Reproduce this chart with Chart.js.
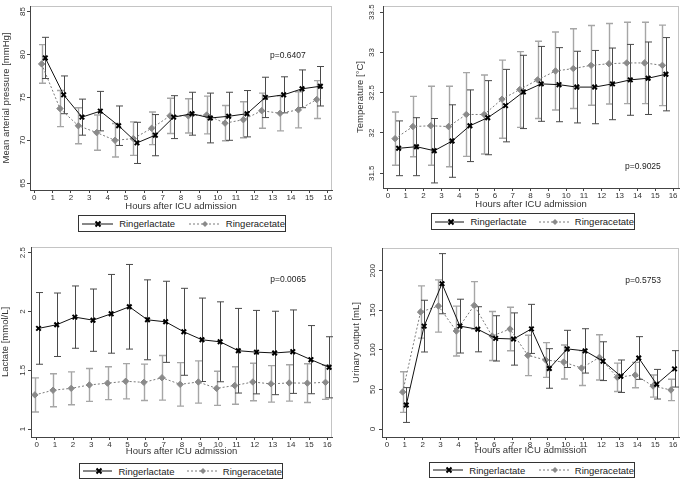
<!DOCTYPE html>
<html>
<head>
<meta charset="utf-8">
<script src="https://cdn.jsdelivr.net/npm/chart.js@4/dist/chart.umd.min.js"></script>
<style>
  body { margin: 0; background: #fff; font-family: "Liberation Sans", Arial, sans-serif; }
  #wrap { position: relative; width: 685px; height: 479px; overflow: hidden; }
  canvas { position: absolute; }
  .legend { position: absolute; box-sizing: border-box; border: 1px solid #333; display: flex; align-items: center;
            font-size: 9.5px; color: #222; padding-left: 3px; white-space: nowrap; }
  .legend svg { display: block; margin-right: 6px; }
  .legend .gap { width: 14px; }
</style>
</head>
<body>
<div id="wrap">
  <canvas id="map" width="340" height="213" style="left:0;top:0"></canvas>
  <canvas id="temp" width="345" height="213" style="left:340px;top:0"></canvas>
  <canvas id="lac" width="340" height="222" style="left:0;top:240px"></canvas>
  <canvas id="urine" width="345" height="222" style="left:340px;top:240px"></canvas>
</div>
<script>
// hours after ICU admission
const hours16 = [0, 1, 2, 3, 4, 5, 6, 7, 8, 9, 10, 11, 12, 13, 14, 15];
const hours17 = [0, 1, 2, 3, 4, 5, 6, 7, 8, 9, 10, 11, 12, 13, 14, 15, 16];
const hoursUrine = [1, 2, 3, 4, 5, 6, 7, 8, 9, 10, 11, 12, 13, 14, 15, 16];
const hourTicks = [0, 1, 2, 3, 4, 5, 6, 7, 8, 9, 10, 11, 12, 13, 14, 15, 16];

// mean arterial pressure [mmHg]
const mapLactate = [79.6, 75.3, 72.7, 73.4, 71.7, 69.7, 70.6, 72.7, 73.1, 72.6, 72.8, 73.1, 75.0, 75.3, 76.0, 76.3];
const mapLactateErr = [2.4, 2.2, 2.1, 2.3, 2.3, 2.4, 2.4, 2.5, 2.5, 2.9, 2.8, 2.7, 2.35, 2.1, 2.2, 2.3];
const mapAcetate = [78.9, 73.7, 71.7, 70.9, 70.0, 70.2, 71.4, 72.85, 72.85, 72.95, 72.0, 72.4, 73.45, 73.15, 73.55, 74.75];
const mapAcetateErr = [2.25, 2.1, 2.1, 2.05, 1.95, 1.95, 1.9, 2.05, 2.0, 2.2, 2.05, 2.1, 2.05, 2.05, 2.1, 2.2];
const mapTicks = [65, 70, 75, 80, 85];

// temperature [°C]
const tempLactate = [31.81, 31.83, 31.78, 31.90, 32.09, 32.19, 32.34, 32.51, 32.61, 32.60, 32.57, 32.57, 32.61, 32.66, 32.68, 32.73];
const tempLactateErr = [0.34, 0.36, 0.40, 0.45, 0.445, 0.46, 0.45, 0.455, 0.465, 0.46, 0.445, 0.455, 0.445, 0.44, 0.45, 0.455];
const tempAcetate = [31.93, 32.08, 32.09, 32.08, 32.23, 32.23, 32.42, 32.54, 32.66, 32.77, 32.80, 32.84, 32.86, 32.87, 32.87, 32.84];
const tempAcetateErr = [0.33, 0.375, 0.49, 0.5, 0.52, 0.49, 0.485, 0.47, 0.48, 0.485, 0.495, 0.495, 0.5, 0.505, 0.505, 0.5];
const tempTicks = [31.5, 32, 32.5, 33, 33.5];

// lactate [mmol/L]
const lacLactate = [1.856, 1.887, 1.952, 1.926, 1.98, 2.04, 1.929, 1.912, 1.827, 1.759, 1.742, 1.666, 1.654, 1.647, 1.658, 1.59, 1.525];
const lacLactateErr = [0.305, 0.27, 0.265, 0.265, 0.335, 0.36, 0.34, 0.345, 0.37, 0.355, 0.34, 0.36, 0.355, 0.355, 0.355, 0.29, 0.26];
const lacAcetate = [1.29, 1.33, 1.346, 1.375, 1.39, 1.406, 1.397, 1.436, 1.38, 1.40, 1.346, 1.37, 1.40, 1.384, 1.392, 1.39, 1.397];
const lacAcetateErr = [0.145, 0.14, 0.14, 0.14, 0.14, 0.15, 0.155, 0.19, 0.185, 0.18, 0.145, 0.16, 0.16, 0.155, 0.155, 0.165, 0.145];
const lacTicks = [1, 1.5, 2, 2.5];

// urinary output [mL]
const urineLactate = [30.3, 130, 183.6, 130, 126, 114.5, 113.7, 126.5, 76.5, 101.2, 98.7, 85.7, 66.7, 89.7, 56.6, 76];
const urineLactateErr = [22, 32.7, 38, 34, 28.5, 28.6, 33, 31, 25, 23.5, 28, 24.5, 20.5, 27, 18.7, 23];
const urineAcetate = [46.7, 147.8, 155.4, 123.8, 156.2, 117.5, 126.3, 93, 87.2, 84.6, 77, 90.5, 65.3, 68.2, 54.3, 49.3];
const urineAcetateErr = [25.7, 33, 33, 31.5, 30, 31, 27.5, 25.5, 22, 21.5, 22, 28.5, 18, 16, 14, 13.5];
const urineTicks = [0, 50, 100, 150, 200];

const FONT = '"Liberation Sans", Arial, sans-serif';
Chart.defaults.font.family = FONT;

// vertical error bars with caps, drawn from the scales
const errorBars = {
  id: 'errorBars',
  beforeDatasetsDraw(chart) {
    const { ctx, scales: { x, y } } = chart;
    for (let d = chart.data.datasets.length - 1; d >= 0; d--) {
      const ds = chart.data.datasets[d];
      ctx.save();
      ctx.strokeStyle = ds.barColor;
      ctx.lineWidth = ds.barWidth;
      ds.data.forEach((p, i) => {
        const e = ds.errors[i];
        const px = Math.round(x.getPixelForValue(p.x)) + 0.5;
        const top = y.getPixelForValue(p.y + e);
        const bot = y.getPixelForValue(p.y - e);
        ctx.beginPath();
        ctx.moveTo(px, top); ctx.lineTo(px, bot);
        ctx.moveTo(px - 3.5, top); ctx.lineTo(px + 3.5, top);
        ctx.moveTo(px - 3.5, bot); ctx.lineTo(px + 3.5, bot);
        ctx.stroke();
      });
      ctx.restore();
    }
  }
};

// light plot region frame + p value
const frame = {
  id: 'frame',
  beforeDraw(chart) {
    const { ctx, chartArea: a } = chart;
    ctx.save();
    ctx.strokeStyle = '#c4c4c4';
    ctx.lineWidth = 1;
    ctx.strokeRect(a.left + 0.5, a.top + 0.5, a.right - a.left - 1, a.bottom - a.top);
    ctx.restore();
  },
  afterDraw(chart, args, opts) {
    const { ctx, scales: { x, y } } = chart;
    ctx.save();
    ctx.fillStyle = '#222';
    ctx.font = '8.5px ' + FONT;
    ctx.textAlign = 'center';
    ctx.textBaseline = 'middle';
    ctx.fillText(opts.text, x.getPixelForValue(opts.x), y.getPixelForValue(opts.y));
    ctx.restore();
  }
};

function panel(id, c) {
  const canvas = document.getElementById(id);
  const W = canvas.width, H = canvas.height;
  return new Chart(canvas, {
    type: 'line',
    data: {
      datasets: [{
        label: 'Ringerlactate',
        data: c.hours.map((h, i) => ({ x: h + c.dx[0], y: c.lactate[i] })),
        errors: c.lactateErr,
        barColor: '#4a4a4a', barWidth: 1,
        borderColor: '#111', borderWidth: 1,
        pointStyle: 'crossRot', pointRadius: 3.2, pointBorderWidth: 2,
        pointBorderColor: '#000', pointBackgroundColor: '#000'
      }, {
        label: 'Ringeracetate',
        data: c.hours.map((h, i) => ({ x: h + c.dx[1], y: c.acetate[i] })),
        errors: c.acetateErr,
        barColor: '#a6a6a6', barWidth: 1.4,
        borderColor: '#7a7a7a', borderWidth: 1, borderDash: [2, 2],
        pointStyle: 'rectRot', pointRadius: 3.2, pointBorderWidth: 1,
        pointBorderColor: '#8a8a8a', pointBackgroundColor: '#8a8a8a'
      }]
    },
    options: {
      responsive: false,
      animation: false,
      layout: { padding: { left: 0, top: c.frame.top, right: W - c.frame.right, bottom: H - c.frame.bottom - c.xh } },
      plugins: {
        legend: { display: false },
        tooltip: { enabled: false },
        frame: c.p
      },
      scales: {
        x: {
          type: 'linear', min: c.xRange[0], max: c.xRange[1],
          afterBuildTicks: s => { s.ticks = hourTicks.map(v => ({ value: v })); },
          afterFit: s => { s.height = c.xh; s.paddingLeft = 0; s.paddingRight = 0; },
          grid: { drawOnChartArea: false, drawTicks: true, tickLength: 3, tickColor: '#444' },
          border: { color: '#444', width: 1 },
          ticks: { autoSkip: false, maxRotation: 0, padding: 0, color: '#333', font: { size: 8 }, callback: v => String(v) },
          title: { display: true, text: 'Hours after ICU admission', color: '#333', font: { size: 9.5 }, padding: 0 }
        },
        y: {
          type: 'linear', min: c.yRange[0], max: c.yRange[1],
          afterBuildTicks: s => { s.ticks = c.yTicks.map(v => ({ value: v })); },
          afterFit: s => { s.width = c.frame.left; s.paddingTop = 0; s.paddingBottom = 0; },
          grid: { drawOnChartArea: false, drawTicks: true, tickLength: 3, tickColor: '#444' },
          border: { color: '#444', width: 1 },
          ticks: { autoSkip: false, minRotation: 90, maxRotation: 90, crossAlign: 'center', padding: 0,
                   color: '#333', font: { size: 8 }, callback: v => String(v) },
          title: { display: true, text: c.yTitle, color: '#333', font: { size: 9.5 }, padding: { top: c.yTitlePad, bottom: 0 } }
        }
      }
    },
    plugins: [errorBars, frame]
  });
}

panel('map', {
  hours: hours16, dx: [0.6, 0.4],
  lactate: mapLactate, lactateErr: mapLactateErr, acetate: mapAcetate, acetateErr: mapAcetateErr,
  yTicks: mapTicks, yRange: [64.21, 85.65], xRange: [-0.234, 16.234],
  frame: { left: 30, top: 1, right: 332, bottom: 190 }, xh: 21.7,
  yTitle: 'Mean arterial pressure [mmHg]', yTitlePad: 0.3,
  p: { text: 'p=0.6407', x: 13.83, y: 79.86 }
});

panel('temp', {
  hours: hours16, dx: [0.6, 0.4],
  lactate: tempLactate, lactateErr: tempLactateErr, acetate: tempAcetate, acetateErr: tempAcetateErr,
  yTicks: tempTicks, yRange: [31.317, 33.577], xRange: [-0.277, 16.332],
  frame: { left: 43, top: 3, right: 343, bottom: 188 }, xh: 21.7,
  yTitle: 'Temperature [°C]', yTitlePad: 15,
  p: { text: 'p=0.9025', x: 14.31, y: 31.577 }
});

panel('lac', {
  hours: hours17, dx: [0.1, -0.1],
  lactate: lacLactate, lactateErr: lacLactateErr, acetate: lacAcetate, acetateErr: lacAcetateErr,
  yTicks: lacTicks, yRange: [0.932, 2.5485], xRange: [-0.314, 16.259],
  frame: { left: 31, top: 7, right: 332, bottom: 197 }, xh: 19.7,
  yTitle: 'Lactate [mmol/L]', yTitlePad: 0,
  p: { text: 'p=0.0065', x: 13.84, y: 2.274 }
});

panel('urine', {
  hours: hoursUrine, dx: [0.08, -0.12],
  lactate: urineLactate, lactateErr: urineLactateErr, acetate: urineAcetate, acetateErr: urineAcetateErr,
  yTicks: urineTicks, yRange: [-10.1, 228.7], xRange: [-0.276, 16.331],
  frame: { left: 42, top: 8, right: 343, bottom: 197 }, xh: 19.4,
  yTitle: 'Urinary output [mL]', yTitlePad: 10.3,
  p: { text: 'p=0.5753', x: 14.32, y: 187.4 }
});

// legends: line sample with marker + label, in a box under each panel
const sampleLactate = '<svg width="32" height="10"><line x1="0" y1="5" x2="32" y2="5" stroke="#111" stroke-width="1"/>' +
  '<path d="M13.5 2.5 L18.5 7.5 M18.5 2.5 L13.5 7.5" stroke="#000" stroke-width="2"/></svg>';
const sampleAcetate = '<svg width="32" height="10"><line x1="0" y1="5" x2="32" y2="5" stroke="#7a7a7a" stroke-width="1" stroke-dasharray="2,2"/>' +
  '<path d="M16 2 L19 5 L16 8 L13 5 Z" fill="#8a8a8a"/></svg>';
const legendBoxes = [[78, 215, 208, 17], [431, 213, 204, 17], [79, 463, 204, 16], [429, 462, 206, 16]];
legendBoxes.forEach(([l, t, w, h]) => {
  const div = document.createElement('div');
  div.className = 'legend';
  div.style.cssText = `left:${l}px;top:${t}px;width:${w}px;height:${h}px`;
  div.innerHTML = sampleLactate + '<span>Ringerlactate</span><span class="gap"></span>' +
    sampleAcetate + '<span>Ringeracetate</span>';
  document.getElementById('wrap').appendChild(div);
});
</script>
</body>
</html>
